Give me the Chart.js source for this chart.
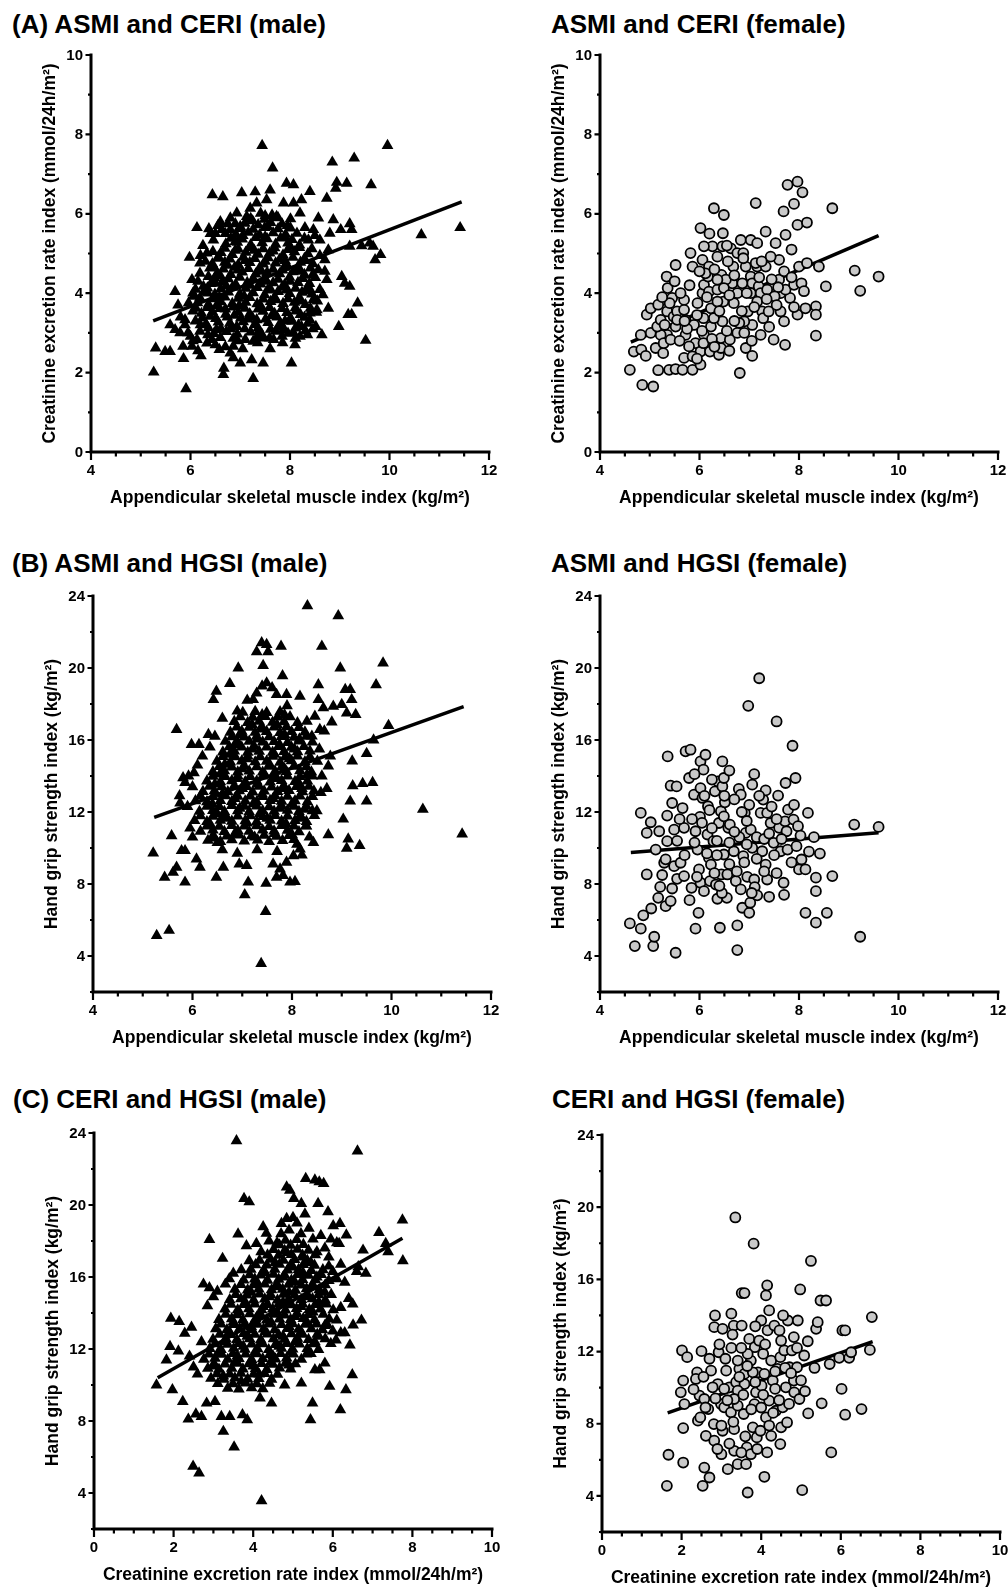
<!DOCTYPE html>
<html>
<head>
<meta charset="utf-8">
<script src="https://cdn.jsdelivr.net/npm/chart.js@4.4.1/dist/chart.umd.min.js"></script>
<style>
  html, body { margin: 0; padding: 0; background: #fff; }
  #page { position: relative; width: 1008px; height: 1592px; overflow: hidden; font-family: 'Liberation Sans', Arial, sans-serif; }
  .title { position: absolute; font-weight: bold; font-size: 26px; line-height: 26px; white-space: nowrap; color: #000; }
  canvas { position: absolute; }
</style>
</head>
<body>
<div id="page">
  <div class="title" style="left:12px;top:11px">(A) ASMI and CERI (male)</div>
  <div class="title" style="left:551px;top:11px">ASMI and CERI (female)</div>
  <div class="title" style="left:12px;top:550px">(B) ASMI and HGSI (male)</div>
  <div class="title" style="left:551px;top:550px">ASMI and HGSI (female)</div>
  <div class="title" style="left:13px;top:1086px">(C) CERI and HGSI (male)</div>
  <div class="title" style="left:552px;top:1086px">CERI and HGSI (female)</div>
</div>
<script>
// axis ranges and titles
const asmiRange = [4, 12];
const ceriRange = [0, 10];
const hgsiRange = [2, 24];
const asmiLabel = 'Appendicular skeletal muscle index (kg/m²)';
const ceriLabel = 'Creatinine excretion rate index (mmol/24h/m²)';
const hgsiLabel = 'Hand grip strength index (kg/m²)';

// regression lines (start, end)
const fitAsmiCeriMale = [[5.25, 3.3], [11.45, 6.3]];
const fitAsmiCeriFemale = [[4.62, 2.77], [9.6, 5.45]];
const fitAsmiHgsiMale = [[5.23, 11.7], [11.45, 17.85]];
const fitAsmiHgsiFemale = [[4.62, 9.75], [9.6, 10.85]];
const fitCeriHgsiMale = [[1.6, 10.4], [7.75, 18.15]];
const fitCeriHgsiFemale = [[1.65, 8.6], [6.8, 12.55]];

// (A) male: ASMI vs CERI
const asmiCeriMale = [
  [7.44,7.72],[9.96,7.72],[7.65,7.15],[9.29,7.40],[8.85,7.30],[8.94,6.79],[9.14,6.77],[9.63,6.73],[8.92,6.64],[11.42,5.65],
  [10.64,5.47],[9.52,2.81],[5.91,1.59],[5.26,2.01],[5.30,2.62],[5.49,2.53],[5.59,2.53],[5.86,2.35],[7.26,1.85],[6.66,1.95],
  [6.67,2.11],[7.46,2.24],[8.03,2.24],[7.23,2.32],[7.00,2.24],[6.86,2.37],[6.21,2.42],[6.44,6.48],[6.65,6.43],[7.03,6.53],
  [6.13,5.65],[6.37,5.62],[5.98,4.90],[5.69,4.04],[9.82,4.97],[9.71,4.84],[8.98,3.16],[9.36,3.75],[9.17,3.46],[9.24,3.46],
  [9.44,5.19],[9.67,5.18],[9.60,5.26],[9.20,5.75],[9.24,5.60],[9.20,5.18],[8.40,6.56],[8.23,6.35],[7.93,6.77],[8.07,6.73],
  [7.60,6.60],[8.74,6.39],[8.57,5.89],[9.02,5.60],[9.04,4.42],[9.10,4.25],[9.20,4.17],[8.66,3.96],[8.77,3.62],[8.64,2.95],
  [8.52,3.16],
  [5.59,3.20],[5.69,3.08],[5.79,3.00],[5.89,3.20],[5.85,2.66],[6.03,2.66],[6.13,2.83],[6.19,3.04],[6.00,2.91],[5.89,3.33],
  [5.96,3.75],[6.06,3.92],[6.03,4.34],[6.19,4.50],[6.26,4.17],[6.36,4.42],[6.46,4.67],[6.56,4.92],[6.43,2.83],[6.33,2.74],
  [6.58,2.58],[6.80,2.49],[6.86,2.66],[7.10,2.83],[7.26,2.79],[7.46,2.87],[7.67,2.83],[7.87,3.08],[8.07,3.00],[8.20,2.91],
  [8.23,3.16],[8.40,3.33],[8.54,3.58],[8.47,3.83],[8.60,4.09],[8.74,4.34],[8.57,4.59],[8.70,4.84],[8.77,5.09],[8.60,5.34],
  [8.80,5.51],[8.87,5.85],[8.47,5.60],[8.37,5.34],[8.20,6.02],[8.07,6.27],[7.87,6.27],[7.73,5.93],[7.53,6.35],[7.33,6.27],
  [7.20,6.14],[7.13,5.93],[6.93,6.02],[6.80,5.89],[6.63,5.60],[6.80,5.60],[7.00,5.68],[6.46,5.34],[6.33,5.01],[6.19,4.76],
  [6.47,2.98],[6.72,3.03],[6.94,2.97],[7.21,3.02],[7.44,2.95],[7.71,3.04],[7.96,2.99],[8.31,3.05],
  [6.31,3.22],[6.56,3.27],[6.79,3.24],[7.06,3.28],[7.29,3.21],[7.56,3.26],[7.81,3.23],[8.04,3.29],[8.36,3.24],
  [6.22,3.49],[6.44,3.53],[6.71,3.47],[6.96,3.52],[7.19,3.48],[7.46,3.54],[7.69,3.49],[7.94,3.51],[8.21,3.46],[8.53,3.52],
  [6.14,3.76],[6.36,3.72],[6.61,3.78],[6.84,3.74],[7.11,3.77],[7.34,3.73],[7.61,3.79],[7.86,3.74],[8.09,3.77],[8.31,3.71],
  [6.26,4.02],[6.49,3.97],[6.76,4.03],[6.99,3.98],[7.26,4.01],[7.49,3.96],[7.76,4.04],[7.99,3.99],[8.24,4.02],[8.44,3.98],
  [6.41,4.24],[6.64,4.28],[6.91,4.22],[7.14,4.27],[7.41,4.23],[7.66,4.26],[7.89,4.21],[8.16,4.27],[8.39,4.24],
  [6.54,4.51],[6.81,4.47],[7.04,4.53],[7.31,4.48],[7.54,4.52],[7.79,4.49],[8.06,4.54],[8.29,4.47],
  [6.44,4.74],[6.69,4.78],[6.96,4.72],[7.19,4.77],[7.46,4.73],[7.71,4.76],[7.94,4.71],[8.21,4.78],[8.46,4.74],
  [6.61,5.02],[6.84,4.97],[7.11,5.03],[7.36,4.98],[7.59,5.01],[7.86,4.96],[8.09,5.04],[8.36,4.99],
  [6.71,5.24],[6.94,5.28],[7.21,5.22],[7.44,5.27],[7.71,5.23],[7.96,5.26],[8.19,5.21],
  [6.91,5.49],[7.16,5.53],[7.39,5.47],[7.66,5.52],[7.91,5.48],[8.14,5.51],
  [7.09,5.76],[7.36,5.72],[7.61,5.78],[7.84,5.74],[7.41,6.01],[7.64,5.97],
  [6.05,3.55],[6.10,4.10],[5.80,3.40],[5.75,3.70],[6.50,5.50],[6.60,5.80],[6.90,5.30],[7.30,6.55],[7.50,5.95],[8.30,5.65],
  [8.50,5.45],[8.60,4.95],[8.70,4.55],[8.40,4.10],[8.55,3.80],[8.35,2.95],[6.20,3.20],[6.35,2.95],[7.05,2.60],[7.60,2.60],
  [8.10,2.70],[6.95,2.80],[7.35,2.75],[7.85,2.75],
  [6.60,2.88],[6.86,2.86],[7.34,2.90],[7.59,2.87],[7.84,2.91],[8.11,2.86],
  [6.36,3.13],[6.61,3.11],[6.84,3.14],[7.09,3.10],[7.36,3.12],[7.61,3.09],[7.86,3.14],[8.11,3.12],[8.46,3.10],
  [6.24,3.38],[6.51,3.36],[6.74,3.40],[7.01,3.37],[7.24,3.39],[7.51,3.35],[7.74,3.40],[8.01,3.37],[8.29,3.39],
  [6.11,3.62],[6.34,3.64],[6.59,3.61],[6.86,3.65],[7.09,3.62],[7.36,3.60],[7.59,3.64],[7.84,3.61],[8.11,3.63],[8.41,3.62],
  [6.19,3.88],[6.46,3.86],[6.69,3.90],[6.96,3.87],[7.19,3.89],[7.46,3.85],[7.69,3.90],[7.96,3.86],[8.19,3.89],[8.49,3.87],
  [6.34,4.13],[6.61,4.11],[6.84,4.15],[7.11,4.12],[7.34,4.14],[7.61,4.10],[7.84,4.15],[8.11,4.12],[8.34,4.13],
  [6.49,4.38],[6.76,4.36],[6.99,4.40],[7.26,4.37],[7.49,4.39],[7.76,4.35],[7.99,4.40],[8.26,4.37],[8.51,4.39],
  [6.39,4.63],[6.66,4.61],[6.89,4.65],[7.16,4.62],[7.39,4.64],[7.66,4.60],[7.89,4.65],[8.16,4.62],[8.41,4.63],
  [6.56,4.88],[6.79,4.86],[7.06,4.90],[7.29,4.87],[7.56,4.89],[7.79,4.85],[8.06,4.90],[8.29,4.87],
  [6.69,5.13],[6.96,5.11],[7.19,5.15],[7.46,5.12],[7.69,5.14],[7.96,5.10],[8.19,5.15],[8.44,5.12],
  [6.81,5.38],[7.04,5.36],[7.31,5.40],[7.54,5.37],[7.81,5.39],[8.04,5.35],[8.29,5.38],
  [7.01,5.63],[7.26,5.61],[7.49,5.65],[7.76,5.62],[8.01,5.64],
  [7.21,5.88],[7.49,5.86],[7.76,5.90],[8.01,5.87],
  [6.52,3.08],[6.93,3.16],[7.38,3.05],[7.77,3.17],[8.17,3.20],[6.40,3.42],[6.88,3.44],[7.33,3.33],[7.63,3.43],[8.12,3.55],
  [6.52,3.68],[6.98,3.69],[7.42,3.66],[7.72,3.83],[8.20,3.80],[6.58,3.90],[7.08,3.92],[7.55,4.08],[7.93,4.08],[8.32,4.05],
  [6.72,4.18],[7.20,4.20],[7.52,4.30],[8.00,4.30],[6.60,4.44],[6.95,4.58],[7.40,4.55],[7.85,4.58],[8.22,4.55],[6.75,4.70],
  [7.10,4.82],[7.50,4.80],[7.90,4.82],[8.30,4.82],[6.90,5.08],[7.28,5.08],[7.66,5.06],[8.00,5.18],[7.05,5.45],[7.50,5.42],
  [7.90,5.40],[7.25,5.82],[7.55,5.68],[7.95,5.70],[6.80,3.10],[7.15,3.35],[7.90,3.30],[6.70,3.60],[8.40,3.50],[6.35,4.00],
  [6.50,4.25],[8.45,4.45],
  [6.25,5.20],[6.40,5.50],[6.55,5.70],[6.20,4.95],[6.30,4.80],[6.45,5.05],[6.70,5.50],[6.75,5.75],[6.90,5.75],[6.15,4.30],
  [6.05,4.00],[6.10,3.30],[5.95,3.00],[6.05,2.80],[6.15,2.55],[6.50,2.70],[6.70,2.65]
];

// (A) female: ASMI vs CERI
const asmiCeriFemale = [
  [4.60,2.07],[4.85,1.69],[5.07,1.65],[5.17,2.06],[4.82,2.95],[4.68,2.53],[4.83,2.58],[4.92,2.42],[4.94,3.46],[5.02,3.62],
  [5.02,3.00],[5.12,2.62],[5.17,3.71],[5.27,2.49],[5.35,2.95],[5.39,2.07],[5.52,2.09],[5.34,4.42],[5.36,4.13],[5.52,4.71],
  [5.35,3.54],[5.48,3.41],[5.45,3.88],[5.55,3.54],[5.52,3.16],[5.66,2.07],[5.86,2.07],[6.02,2.20],[5.82,5.01],[5.86,4.67],
  [6.02,5.64],[6.06,4.84],[5.69,3.83],[5.72,3.33],[5.69,2.37],[5.72,2.95],[5.89,3.20],[5.92,2.74],[6.02,2.53],[5.96,3.75],
  [6.06,4.00],[6.09,4.21],[6.26,5.18],[6.29,6.14],[6.49,5.97],[6.47,5.51],[6.19,4.67],[6.17,4.42],[6.19,4.04],[6.23,3.62],
  [6.23,3.16],[6.21,2.53],[6.39,2.45],[6.43,2.62],[6.36,4.92],[6.46,5.18],[6.36,4.09],[6.44,4.46],[6.48,3.79],[6.46,3.29],
  [6.43,2.87],[6.61,2.83],[6.63,5.13],[6.68,4.67],[6.66,4.25],[6.69,3.75],[6.76,5.01],[6.83,5.34],[6.88,5.01],[6.93,4.67],
  [6.81,1.99],[6.93,2.62],[7.06,2.42],[7.03,5.34],[7.13,6.27],[7.03,4.42],[7.06,4.25],[7.03,4.00],[6.97,3.54],[7.06,3.20],
  [6.90,3.29],[6.80,3.25],[7.16,4.67],[7.19,4.17],[7.23,4.00],[7.26,3.54],[7.23,2.95],[7.28,3.37],[7.33,5.55],[7.33,4.67],
  [7.36,4.09],[7.53,5.26],[7.49,2.83],[7.72,2.70],[7.60,4.84],[7.60,4.34],[7.63,4.00],[7.63,3.54],[7.70,3.29],[7.73,5.47],
  [7.69,6.06],[7.77,6.73],[7.97,6.81],[8.07,6.54],[7.90,6.25],[7.97,5.72],[8.16,5.78],[7.82,3.88],[7.73,4.09],[7.90,4.21],
  [7.97,3.46],[8.00,4.67],[8.05,4.25],[8.13,3.62],[8.16,4.76],[8.40,4.67],[8.34,3.67],[8.34,3.46],[8.34,2.93],[8.54,4.17],
  [8.67,6.14],[9.12,4.57],[9.23,4.06],[9.60,4.42],[7.58,4.15],[7.51,3.92],[7.16,5.26],[7.13,4.76],[6.88,4.88],[6.57,4.80],
  [6.53,4.34],[6.36,4.34],[6.09,5.18],[6.12,4.50],[6.08,3.37],[6.09,2.95],[6.08,2.74],[6.29,3.37],[6.36,3.79],[6.49,4.13],
  [6.76,3.00],[6.76,4.00],[6.86,4.25],[7.16,3.79],[7.39,3.54],[7.43,4.92],[5.22,2.95],[5.15,3.16],[5.22,3.33],[5.28,2.74],
  [5.42,2.83],[5.62,4.00],[5.55,3.33],[5.79,2.66],[5.86,2.41],[5.69,3.58],
  [5.30,3.20],[5.40,3.75],[5.60,2.80],[5.75,3.10],[5.80,4.20],[5.95,3.45],[6.05,3.05],[6.15,3.90],[6.25,2.85],[6.30,4.60],
  [6.40,3.55],[6.55,3.05],[6.60,3.95],[6.70,4.45],[6.85,3.55],[6.95,4.00],[7.10,3.65],[7.20,4.40],[7.35,3.85],[7.45,4.35],
  [7.55,3.70],[7.70,4.55],[7.85,4.40],[7.90,3.65],[5.50,4.30],[5.25,3.90],[6.00,4.55],[6.55,5.20],[6.70,3.30],[7.05,2.80],
  [6.30,2.65],[5.95,2.35],[6.60,2.55],[7.40,3.15],[7.85,5.10],[8.10,4.05],[7.25,4.80],[6.20,5.50],[5.70,3.30],[6.90,3.00]
];

// (B) male: ASMI vs HGSI
const asmiHgsiMale = [
  [8.31,23.45],[8.93,22.90],[7.39,21.40],[7.49,21.30],[7.29,20.90],[7.52,20.90],[7.78,21.20],[8.60,21.20],[7.42,20.14],[6.92,20.00],
  [8.97,20.00],[9.83,20.27],[7.81,19.57],[9.69,19.07],[8.53,19.07],[7.49,19.17],[6.75,19.13],[6.48,18.70],[6.42,18.24],[5.68,16.58],
  [5.98,15.75],[6.13,15.75],[6.32,16.30],[9.94,16.80],[9.64,16.00],[9.50,15.25],[9.21,14.83],[9.42,13.58],[9.62,13.63],[9.22,13.45],
  [9.50,12.60],[9.17,12.60],[9.03,11.60],[9.13,10.50],[9.10,9.98],[9.36,10.13],[10.63,12.15],[11.42,10.77],[8.73,10.73],[8.28,11.23],
  [5.21,9.72],[5.44,8.37],[5.61,8.65],[5.68,8.93],[5.85,8.10],[5.28,5.14],[5.53,5.42],[7.38,3.58],[7.47,6.47],[7.05,7.40],
  [7.12,8.10],[7.48,8.04],[8.06,8.13],[7.96,8.10],[6.48,8.37],[6.62,8.93],[6.94,9.11],[7.09,9.02],[5.58,10.68],[5.85,9.85],
  [5.78,9.85],[6.08,9.39],[6.15,8.93],[5.81,13.90],[5.85,13.63],[6.03,14.18],[5.74,12.90],[8.73,14.55],[8.77,15.10],[8.58,13.08],
  [8.50,12.06],[8.43,10.30],[8.16,9.94],[8.03,9.57],[7.89,9.20],[7.76,8.83],[7.62,9.11],[7.82,8.47],[7.69,8.37],[8.53,18.24],
  [9.07,18.80],[9.17,18.80],[9.20,18.24],[9.28,17.41],[9.10,17.50],[8.83,17.87],[9.00,17.97],[8.63,17.78],[8.16,18.43],[7.89,18.52],
  [7.69,18.52],[7.29,18.60],[7.22,18.24],[8.46,17.32],[8.30,17.04],[8.56,16.58],[8.40,16.21],
  [6.31,10.42],[6.56,10.36],[6.79,10.45],[7.04,10.38],[7.31,10.44],[7.54,10.35],[7.81,10.41],[8.04,10.47],
  [6.16,10.93],[6.41,10.99],[6.64,10.91],[6.91,10.97],[7.14,10.92],[7.41,11.00],[7.64,10.94],[7.91,10.98],[8.14,10.90],
  [6.04,11.52],[6.29,11.46],[6.56,11.53],[6.79,11.48],[7.06,11.51],[7.29,11.45],[7.56,11.54],[7.79,11.49],[8.06,11.52],[8.29,11.47],
  [6.14,12.03],[6.41,12.08],[6.64,12.02],[6.91,12.07],[7.14,12.01],[7.41,12.06],[7.64,12.04],[7.91,12.09],[8.14,12.02],[8.41,12.06],
  [6.06,12.62],[6.29,12.57],[6.56,12.63],[6.79,12.58],[7.06,12.61],[7.29,12.56],[7.56,12.64],[7.79,12.59],[8.06,12.62],[8.31,12.57],
  [6.21,13.13],[6.44,13.18],[6.71,13.12],[6.94,13.17],[7.21,13.11],[7.44,13.16],[7.71,13.14],[7.94,13.19],[8.21,13.12],[8.44,13.16],
  [6.29,13.72],[6.56,13.67],[6.79,13.73],[7.06,13.68],[7.29,13.71],[7.56,13.66],[7.79,13.74],[8.06,13.69],[8.31,13.72],
  [6.41,14.23],[6.64,14.28],[6.91,14.22],[7.14,14.27],[7.41,14.21],[7.66,14.26],[7.89,14.24],[8.16,14.29],[8.39,14.22],
  [6.49,14.82],[6.76,14.77],[6.99,14.83],[7.26,14.78],[7.49,14.81],[7.76,14.76],[7.99,14.84],[8.26,14.79],[8.51,14.82],
  [6.61,15.33],[6.84,15.38],[7.11,15.32],[7.34,15.37],[7.61,15.31],[7.84,15.36],[8.11,15.34],[8.36,15.39],
  [6.66,15.92],[6.91,15.87],[7.14,15.93],[7.41,15.88],[7.64,15.91],[7.91,15.86],[8.14,15.94],[8.41,15.89],
  [6.76,16.43],[6.99,16.48],[7.26,16.42],[7.49,16.47],[7.76,16.41],[7.99,16.46],[8.26,16.44],
  [6.84,17.02],[7.11,16.97],[7.34,17.03],[7.61,16.98],[7.84,17.01],[8.11,16.96],
  [7.01,17.53],[7.26,17.58],[7.49,17.52],[7.76,17.57],
  [5.90,12.30],[5.95,11.10],[6.00,13.40],[5.92,14.00],[6.10,14.60],[6.20,15.10],[6.35,15.60],[6.45,16.20],[6.00,10.60],[5.75,12.50],
  [8.60,14.00],[8.70,13.30],[8.55,15.50],[8.65,16.50],[8.80,17.00],[8.45,11.80],[8.35,10.60],[8.20,9.60],[8.10,10.20],[7.70,9.80],
  [7.30,9.90],[6.90,9.70],[6.60,9.90],[6.50,10.30],[7.10,18.20],[7.40,19.00],[7.60,18.90],[7.90,17.90],[6.90,17.60],[6.60,17.20],
  [6.41,10.68],[6.69,10.66],[6.94,10.71],[7.19,10.67],[7.44,10.70],[7.69,10.65],[7.94,10.69],
  [6.29,11.22],[6.54,11.20],[6.79,11.25],[7.04,11.21],[7.29,11.23],[7.54,11.19],[7.79,11.24],[8.04,11.21],[8.29,11.22],
  [6.16,11.78],[6.41,11.76],[6.66,11.80],[6.91,11.77],[7.16,11.79],[7.41,11.75],[7.66,11.80],[7.91,11.77],[8.16,11.79],
  [6.29,12.32],[6.54,12.30],[6.79,12.35],[7.04,12.31],[7.29,12.33],[7.54,12.29],[7.79,12.34],[8.04,12.31],[8.29,12.32],
  [6.16,12.88],[6.41,12.86],[6.66,12.90],[6.91,12.87],[7.16,12.89],[7.41,12.85],[7.66,12.90],[7.91,12.87],[8.16,12.89],[8.41,12.86],
  [6.34,13.42],[6.59,13.40],[6.84,13.45],[7.09,13.41],[7.34,13.43],[7.59,13.39],[7.84,13.44],[8.09,13.41],[8.34,13.42],
  [6.41,13.98],[6.66,13.96],[6.91,14.00],[7.16,13.97],[7.41,13.99],[7.66,13.95],[7.91,14.00],[8.16,13.97],[8.41,13.99],
  [6.54,14.52],[6.79,14.50],[7.04,14.55],[7.29,14.51],[7.54,14.53],[7.79,14.49],[8.04,14.54],[8.29,14.51],
  [6.61,15.08],[6.86,15.06],[7.11,15.10],[7.36,15.07],[7.61,15.09],[7.86,15.05],[8.11,15.10],[8.36,15.07],
  [6.74,15.62],[6.99,15.60],[7.24,15.65],[7.49,15.61],[7.74,15.63],[7.99,15.59],[8.24,15.64],
  [6.79,16.18],[7.04,16.16],[7.29,16.20],[7.54,16.17],[7.79,16.19],[8.04,16.15],[8.29,16.20],
  [6.89,16.72],[7.14,16.70],[7.39,16.75],[7.64,16.71],[7.89,16.73],[8.14,16.69],
  [6.96,17.28],[7.21,17.26],[7.46,17.30],[7.71,17.27],[7.96,17.29],
  [6.45,10.55],[6.85,10.80],[7.25,10.60],[7.65,10.80],[8.00,10.75],[6.35,11.35],[6.70,11.65],[7.10,11.38],[7.50,11.65],[7.88,11.35],
  [8.20,11.65],[6.50,11.90],[6.95,12.20],[7.35,11.90],[7.75,12.20],[8.25,12.15],[6.40,12.45],[6.85,12.75],[7.22,12.45],[7.62,12.75],
  [8.00,12.45],[6.60,13.00],[7.00,13.30],[7.40,13.00],[7.80,13.30],[8.20,13.30],[6.45,13.55],[6.90,13.85],[7.30,13.55],[7.70,13.85],
  [8.15,13.55],[6.55,14.10],[7.00,14.40],[7.45,14.10],[7.85,14.40],[8.30,14.05],[6.65,14.65],[7.10,14.95],[7.55,14.65],[7.95,14.95],
  [6.75,15.20],[7.20,15.50],[7.65,15.20],[8.05,15.50],[6.85,15.75],[7.30,16.05],[7.75,15.75],[8.15,16.05],[6.95,16.30],[7.40,16.60],
  [7.85,16.30],[7.20,16.85],[7.70,16.85],[7.40,17.40],[7.85,17.40]
];

// (B) female: ASMI vs HGSI
const asmiHgsiFemale = [
  [4.60,5.81],[4.70,4.55],[4.82,5.52],[4.87,6.26],[4.82,11.95],[4.94,10.84],[4.94,8.53],[5.02,11.43],[5.07,4.55],[5.09,5.07],
  [5.03,6.64],[5.12,9.91],[5.17,7.23],[5.21,7.84],[5.19,10.93],[5.29,9.18],[5.32,6.77],[5.35,10.38],[5.36,15.09],[5.42,7.05],
  [5.42,13.46],[5.45,7.75],[5.45,12.50],[5.49,11.02],[5.52,4.18],[5.54,13.42],[5.32,9.37],[5.49,8.99],[5.55,8.29],[5.62,9.18],
  [5.66,12.22],[5.69,8.44],[5.69,11.12],[5.72,15.37],[5.82,15.46],[5.79,13.89],[5.84,7.79],[5.89,12.96],[5.92,5.52],[5.98,6.40],
  [5.92,10.93],[5.96,9.91],[5.99,8.81],[6.01,11.73],[6.02,8.07],[6.02,13.33],[6.06,12.78],[6.02,14.81],[6.08,14.35],[6.12,15.18],
  [6.09,7.60],[6.16,10.75],[6.17,12.32],[6.19,9.45],[6.21,8.16],[6.23,9.08],[6.28,10.38],[6.31,13.15],[6.33,7.97],[6.36,7.18],
  [6.37,13.70],[6.39,11.39],[6.41,5.57],[6.43,12.04],[6.44,8.53],[6.46,13.42],[6.46,14.81],[6.49,9.64],[6.49,11.76],[6.49,13.89],
  [6.51,12.54],[6.55,7.23],[6.56,8.53],[6.58,11.12],[6.61,11.30],[6.69,9.82],[6.73,8.16],[6.76,5.70],[6.76,4.33],[6.79,13.28],
  [6.83,12.96],[6.83,7.70],[6.86,6.68],[6.88,9.55],[6.91,11.95],[6.93,10.84],[6.96,8.40],[6.98,17.90],[7.00,6.40],[7.02,6.96],
  [7.03,11.02],[7.06,13.52],[7.06,10.01],[7.10,8.25],[7.11,7.83],[7.16,7.37],[7.20,19.43],[7.23,11.95],[7.26,9.82],[7.28,12.69],
  [7.33,13.20],[7.33,9.08],[7.36,11.95],[7.36,8.25],[7.40,7.29],[7.43,11.39],[7.49,10.29],[7.55,17.03],[7.58,12.91],[7.60,11.12],
  [7.63,9.82],[7.69,8.07],[7.72,11.48],[7.73,13.61],[7.75,10.93],[7.77,9.91],[7.78,12.13],[7.87,15.68],[7.89,11.58],[7.93,13.89],
  [7.95,10.10],[7.98,11.21],[8.00,8.81],[8.03,10.69],[8.05,9.36],[8.13,8.81],[8.18,11.95],[8.13,6.40],[8.34,8.35],[8.34,7.60],
  [8.34,5.85],[8.42,9.69],[8.56,6.40],[8.67,8.44],[9.11,11.30],[9.23,5.07],[9.60,11.17],
  [5.90,10.30],[6.25,11.10],[6.60,10.30],[6.90,9.20],[7.15,10.60],[7.50,9.60],[6.35,9.60],[5.85,11.60],[6.70,12.70],[7.00,12.40],
  [7.55,11.60],[6.10,12.90],[6.80,10.60],[7.30,10.50],
  [5.55,10.40],[5.70,9.60],[5.80,7.10],[5.95,8.40],[6.05,11.40],[6.15,9.70],[6.20,12.10],[6.30,8.60],[6.35,10.40],[6.45,7.50],
  [6.50,12.90],[6.60,9.10],[6.70,10.90],[6.75,8.70],[6.85,12.00],[6.95,10.20],[7.05,7.50],[7.15,9.40],[7.20,12.90],[7.30,8.70],
  [7.40,10.80],[7.45,12.30],[7.55,8.60],[7.65,10.50],[7.85,9.20],[7.90,12.40],[6.25,13.80],[5.90,14.10],[6.60,14.30],[7.10,14.10],
  [5.60,11.60],[5.35,11.80],[5.25,8.50],[6.95,11.50],[6.40,7.90],[7.70,7.40],[8.20,9.80],[8.30,10.60]
];

// (C) male: CERI vs HGSI
const ceriHgsiMale = [
  [3.58,23.56],[6.62,23.00],[7.75,19.16],[7.76,16.90],[7.16,18.47],[7.39,17.40],[7.33,17.86],[6.76,17.49],[6.83,16.20],[6.64,16.57],
  [6.72,13.60],[6.51,13.33],[6.49,10.56],[6.33,9.73],[6.19,8.62],[5.44,8.07],[5.49,9.00],[1.57,10.00],[1.82,11.39],[1.97,9.73],
  [1.91,12.13],[2.12,11.89],[1.93,13.70],[2.14,13.52],[2.28,12.87],[2.23,9.08],[2.37,8.10],[2.56,8.38],[2.49,5.48],[2.64,5.11],
  [4.21,3.57],[3.52,6.55],[3.25,7.42],[2.90,18.08],[3.23,17.03],[3.62,18.38],[3.77,20.36],[3.90,20.17],[3.83,17.73],[4.08,17.86],
  [4.84,21.00],[4.92,20.82],[5.02,20.36],[5.21,20.08],[5.32,21.47],[5.55,21.38],[5.66,21.28],[5.77,21.19],[5.63,20.08],[5.88,19.62],
  [6.01,18.84],[6.18,18.97],[6.34,18.33],[6.16,17.86],[4.25,18.79],[4.33,18.42],[4.71,18.97],[4.84,19.25],[5.92,9.92],[5.80,11.21],
  [5.67,10.84],[5.55,10.84],[6.08,12.50],[6.43,12.22],[5.21,10.10],[4.79,10.00],[4.46,8.99],[4.17,9.27],[3.85,8.07],[3.73,8.34],
  [3.41,8.25],[3.20,8.25],[2.70,8.25],[2.83,8.99],[3.04,9.08],
  [3.36,9.82],[3.64,9.77],[3.96,9.84],[4.24,9.79],
  [2.94,10.37],[3.26,10.32],[3.54,10.38],[3.86,10.33],[4.14,10.36],[4.46,10.31],
  [2.86,10.92],[3.14,10.87],[3.46,10.93],[3.74,10.88],[4.06,10.91],[4.34,10.86],[4.66,10.94],[4.94,10.89],
  [2.76,11.43],[3.04,11.48],[3.36,11.42],[3.64,11.47],[3.96,11.41],[4.24,11.46],[4.56,11.44],[4.84,11.49],[5.21,11.42],
  [2.91,12.02],[3.19,11.97],[3.51,12.03],[3.79,11.98],[4.11,12.01],[4.39,11.96],[4.71,12.04],[4.99,11.99],[5.36,12.02],[5.64,11.97],
  [2.99,12.53],[3.31,12.58],[3.59,12.52],[3.91,12.57],[4.19,12.51],[4.51,12.56],[4.79,12.54],[5.11,12.59],[5.39,12.52],[5.81,12.56],
  [3.06,13.12],[3.34,13.07],[3.66,13.13],[3.94,13.08],[4.26,13.11],[4.54,13.06],[4.86,13.14],[5.14,13.09],[5.46,13.12],[5.74,13.07],
  [3.14,13.63],[3.46,13.68],[3.74,13.62],[4.06,13.67],[4.34,13.61],[4.66,13.66],[4.94,13.64],[5.26,13.69],[5.54,13.62],[5.91,13.66],
  [3.29,14.22],[3.61,14.17],[3.89,14.23],[4.21,14.18],[4.49,14.21],[4.81,14.16],[5.09,14.24],[5.41,14.19],[5.69,14.22],[6.01,14.17],
  [3.41,14.73],[3.69,14.78],[4.01,14.72],[4.29,14.77],[4.61,14.71],[4.89,14.76],[5.21,14.74],[5.49,14.79],[5.81,14.72],
  [3.54,15.32],[3.86,15.27],[4.14,15.33],[4.46,15.28],[4.74,15.31],[5.06,15.26],[5.34,15.34],[5.66,15.29],
  [3.76,15.83],[4.04,15.88],[4.36,15.82],[4.64,15.87],[4.96,15.81],[5.24,15.86],[5.56,15.84],
  [3.94,16.42],[4.26,16.37],[4.54,16.43],[4.86,16.38],[5.14,16.41],[5.46,16.36],
  [4.16,16.93],[4.44,16.98],[4.76,16.92],[5.04,16.97],[5.36,16.91],
  [4.51,17.52],[4.79,17.47],[5.11,17.53],[5.39,17.48],[4.81,18.03],[5.09,18.08],
  [2.40,11.60],[2.60,10.60],[2.70,12.40],[2.85,14.40],[2.90,15.40],[2.75,15.60],[3.00,14.90],[3.10,15.20],[2.50,11.00],[2.45,13.20],
  [6.20,14.30],[6.40,14.80],[6.50,14.50],[6.10,15.90],[6.30,15.70],[5.90,16.60],[6.10,17.90],[5.90,17.10],[6.60,16.30],[6.30,12.90],
  [3.11,10.08],[3.49,10.06],[3.81,10.11],[4.09,10.07],[4.41,10.09],
  [3.09,10.62],[3.41,10.60],[3.69,10.65],[4.01,10.61],[4.29,10.63],[4.61,10.59],
  [3.01,11.18],[3.29,11.16],[3.61,11.20],[3.89,11.17],[4.21,11.19],[4.49,11.15],[4.81,11.20],[5.06,11.17],
  [2.89,11.72],[3.21,11.70],[3.49,11.75],[3.81,11.71],[4.09,11.73],[4.41,11.69],[4.69,11.74],[5.01,11.71],[5.34,11.72],
  [3.04,12.28],[3.36,12.26],[3.64,12.30],[3.96,12.27],[4.24,12.29],[4.56,12.25],[4.84,12.30],[5.16,12.27],[5.51,12.29],
  [3.16,12.82],[3.44,12.80],[3.76,12.85],[4.04,12.81],[4.36,12.83],[4.64,12.79],[4.96,12.84],[5.24,12.81],[5.61,12.82],
  [3.19,13.38],[3.51,13.36],[3.79,13.40],[4.11,13.37],[4.39,13.39],[4.71,13.35],[4.99,13.40],[5.31,13.37],[5.59,13.39],[5.86,13.36],
  [3.31,13.92],[3.59,13.90],[3.91,13.95],[4.19,13.91],[4.51,13.93],[4.79,13.89],[5.11,13.94],[5.39,13.91],[5.76,13.92],
  [3.44,14.48],[3.76,14.46],[4.04,14.50],[4.36,14.47],[4.64,14.49],[4.96,14.45],[5.24,14.50],[5.56,14.47],[5.84,14.49],
  [3.56,15.02],[3.84,15.00],[4.16,15.05],[4.44,15.01],[4.76,15.03],[5.04,14.99],[5.36,15.04],[5.64,15.01],[5.96,15.02],
  [3.69,15.58],[4.01,15.56],[4.29,15.60],[4.61,15.57],[4.89,15.59],[5.21,15.55],[5.49,15.60],[5.81,15.57],
  [3.91,16.12],[4.19,16.10],[4.51,16.15],[4.79,16.11],[5.11,16.13],[5.39,16.09],[5.71,16.14],
  [4.06,16.68],[4.34,16.66],[4.66,16.70],[4.94,16.67],[5.26,16.69],[5.54,16.65],
  [4.36,17.22],[4.64,17.20],[4.96,17.25],[5.24,17.21],[5.56,17.23],
  [4.66,17.78],[4.94,17.76],[5.26,17.80],
  [3.25,10.50],[3.70,10.20],[4.15,10.60],[3.05,11.05],[3.55,11.30],[4.00,11.05],[4.45,11.30],[4.90,11.10],[3.12,11.80],[3.60,11.60],
  [4.05,11.85],[4.50,11.60],[4.95,11.85],[5.45,11.75],[3.28,12.40],[3.75,12.15],[4.20,12.40],[4.65,12.15],[5.05,12.40],[5.55,12.40],
  [3.40,12.95],[3.85,12.70],[4.30,12.95],[4.75,12.70],[5.20,12.95],[5.65,12.70],[3.50,13.50],[3.95,13.25],[4.45,13.50],[4.90,13.25],
  [5.35,13.50],[5.80,13.30],[3.65,14.05],[4.10,13.80],[4.60,14.05],[5.05,13.80],[5.50,14.05],[3.80,14.60],[4.25,14.35],[4.75,14.60],
  [5.20,14.35],[5.65,14.60],[3.95,15.15],[4.40,14.90],[4.90,15.15],[5.35,14.90],[5.80,15.15],[4.10,15.70],[4.55,15.45],[5.05,15.70],
  [5.50,15.45],[4.30,16.25],[4.75,16.00],[5.25,16.25],[5.60,16.00],[4.55,16.80],[5.00,16.55],[5.45,16.80],[4.85,17.35],[5.25,17.10],
  [4.90,18.60],[5.10,19.00],[5.20,18.40],[5.40,18.70],[5.50,18.10],[5.70,18.30],[5.80,17.60],[5.95,18.10],[5.30,19.50],[5.00,19.30],
  [4.70,18.40],[4.60,17.90],[5.60,17.40],[5.75,16.40],[5.90,15.80],[6.00,16.30],[6.20,16.70],[6.00,13.00],[6.10,13.60],[6.20,12.90],
  [5.95,12.30],[4.40,18.00],[4.20,17.40],[3.90,16.90],[3.70,16.40],[3.50,16.20],[3.30,15.60],[3.40,15.90]
];

// (C) female: CERI vs HGSI
const ceriHgsiFemale = [
  [1.63,4.56],[1.67,6.28],[2.04,5.85],[2.04,7.76],[2.01,12.06],[2.14,11.69],[1.98,9.74],[2.04,10.39],[2.07,9.09],[2.39,10.85],
  [2.36,10.48],[2.50,12.02],[2.45,9.56],[2.41,8.17],[2.47,8.35],[2.57,5.57],[2.53,4.56],[2.70,5.02],[2.61,7.33],[2.67,8.81],
  [2.74,10.94],[2.81,7.98],[2.82,7.06],[2.84,14.00],[2.82,13.35],[2.91,10.20],[2.93,11.96],[2.99,9.09],[3.03,13.26],[3.00,6.31],
  [3.03,7.61],[3.07,8.91],[3.12,10.94],[3.16,5.48],[3.20,10.02],[3.24,8.63],[3.31,13.44],[3.28,12.94],[3.32,7.70],[3.35,19.43],
  [3.32,6.50],[3.37,10.30],[3.41,5.76],[3.41,9.00],[3.45,11.04],[3.51,13.44],[3.51,15.24],[3.58,15.24],[3.56,8.54],[3.58,10.20],
  [3.62,5.76],[3.64,6.69],[3.66,4.19],[3.70,12.70],[3.74,6.31],[3.74,11.50],[3.79,7.80],[3.81,17.98],[3.83,9.09],[3.84,12.24],
  [3.87,9.74],[3.89,7.24],[3.92,10.85],[3.98,7.61],[4.00,13.72],[4.01,10.11],[4.05,11.87],[4.08,10.76],[4.08,5.06],[4.12,8.35],
  [4.12,15.11],[4.15,15.67],[4.15,6.41],[4.16,13.17],[4.20,14.28],[4.20,9.28],[4.25,11.50],[4.25,7.33],[4.29,10.39],[4.33,13.44],
  [4.35,9.93],[4.37,8.72],[4.41,11.04],[4.46,13.17],[4.48,11.69],[4.50,7.80],[4.48,6.87],[4.54,8.91],[4.58,12.06],[4.62,10.02],
  [4.65,8.07],[4.67,13.72],[4.71,11.13],[4.77,12.06],[4.82,12.80],[4.82,10.39],[4.83,9.74],[4.90,11.13],[4.92,13.72],[4.96,9.37],
  [4.98,15.44],[5.03,4.32],[5.08,11.78],[5.17,12.57],[5.18,8.57],[5.25,17.02],[5.34,11.09],[5.38,13.26],[5.42,13.63],[5.49,14.83],
  [5.52,9.13],[5.63,14.83],[5.72,11.31],[5.76,6.41],[5.96,11.65],[6.02,9.93],[6.04,13.17],[6.11,13.17],[6.11,8.50],[6.21,11.65],
  [6.26,11.96],[6.52,8.81],[6.73,12.09],[6.78,13.91],
  [3.41,11.50],[3.66,11.87],[2.57,9.37],[2.78,10.02],[3.07,9.93],[3.41,9.83],[3.58,10.76],[3.79,10.85],[3.32,9.37],
  [2.30,9.90],[2.55,10.60],[2.60,8.90],[2.70,11.60],[2.85,9.40],[2.95,12.40],[3.00,7.90],[3.10,11.60],[3.15,9.30],[3.25,12.20],
  [3.30,8.10],[3.45,10.60],[3.50,12.20],[3.55,9.60],[3.60,7.30],[3.65,11.20],[3.75,8.80],[3.85,10.30],[3.95,12.60],[4.00,8.90],
  [4.05,9.60],[4.10,12.40],[4.20,7.90],[4.30,8.60],[4.35,10.90],[4.45,9.30],[4.50,12.60],[4.60,11.10],[4.70,9.10],[4.75,10.80],
  [4.90,12.20],[5.00,10.40],[5.10,9.80],[3.20,6.90],[3.50,6.40],[3.90,6.60],[2.90,6.60],[3.25,14.10],[3.85,13.40],[4.55,14.00]
];

const FONT = "'Liberation Sans', Arial, Helvetica, sans-serif";
const TICK_FONT = "bold 15px 'Liberation Sans', Arial, sans-serif";

// Prism-style axes drawn from the chart's own scales:
// thick L-shaped frame, long labelled major ticks, short minor ticks
function prismAxes(xEvery, yEvery) {
  const isMajor = (v, every) => Math.abs(v / every - Math.round(v / every)) < 1e-6;
  return {
    id: 'prismAxes',
    afterDatasetsDraw(chart) {
      const {ctx, chartArea: a, scales: {x, y}} = chart;
      ctx.save();
      ctx.strokeStyle = '#000';
      ctx.fillStyle = '#000';
      ctx.lineWidth = 2.2;
      ctx.beginPath();
      x.ticks.forEach(t => {
        const px = x.getPixelForValue(t.value);
        const len = isMajor(t.value, xEvery) ? 8 : 4.5;
        ctx.moveTo(px, a.bottom);
        ctx.lineTo(px, a.bottom + len);
      });
      y.ticks.forEach(t => {
        const py = y.getPixelForValue(t.value);
        const len = isMajor(t.value, yEvery) ? 5.5 : 3;
        ctx.moveTo(a.left, py);
        ctx.lineTo(a.left - len, py);
      });
      ctx.stroke();
      ctx.lineWidth = 3;
      ctx.lineCap = 'square';
      ctx.beginPath();
      ctx.moveTo(a.left, a.top);
      ctx.lineTo(a.left, a.bottom);
      ctx.lineTo(a.right, a.bottom);
      ctx.stroke();

      ctx.font = TICK_FONT;
      ctx.textBaseline = 'middle';
      ctx.textAlign = 'center';
      x.ticks.forEach(t => {
        if (isMajor(t.value, xEvery)) ctx.fillText(String(t.value), x.getPixelForValue(t.value), a.bottom + 19);
      });
      ctx.textAlign = 'right';
      y.ticks.forEach(t => {
        if (isMajor(t.value, yEvery) && t.value !== y.min) ctx.fillText(String(t.value), a.left - 8, y.getPixelForValue(t.value) + 0.5);
      });
      if (isMajor(y.min, yEvery)) ctx.fillText(String(y.min), a.left - 8, a.bottom + 0.5);
      ctx.restore();
    }
  };
}

function xAxis(range, title) {
  return {
    type: 'linear', min: range[0], max: range[1],
    afterFit: s => { s.height = 62; },
    grid: {display: false},
    border: {display: false},
    ticks: {stepSize: 0.5, autoSkip: false, display: false},
    title: {
      display: true, text: title, color: '#000',
      font: {family: FONT, size: 17.5, weight: 'bold', lineHeight: 1.2},
      padding: {top: 0, bottom: 5}
    }
  };
}

function yAxis(range, title, step, width) {
  return {
    type: 'linear', min: range[0], max: range[1],
    afterFit: s => { s.width = width; },
    grid: {display: false},
    border: {display: false},
    ticks: {stepSize: step, autoSkip: false, display: false},
    title: {
      display: true, text: title, color: '#000',
      font: {family: FONT, size: 17.5, weight: 'bold', lineHeight: 1.2},
      padding: {top: width - 41 - 10.5, bottom: 0}
    }
  };
}

function drawPanel(o) {
  const padTop = 15, w = 504;
  const h = padTop + (o.area[3] - o.area[1]) + 62;
  const canvas = document.createElement('canvas');
  canvas.width = w; canvas.height = h;
  canvas.style.left = o.left + 'px';
  canvas.style.top = (o.area[1] - padTop) + 'px';
  canvas.style.width = w + 'px';
  canvas.style.height = h + 'px';
  document.getElementById('page').appendChild(canvas);

  const female = o.female;
  new Chart(canvas, {
    type: 'scatter',
    data: {
      datasets: [
        {
          data: o.points.map(p => ({x: p[0], y: p[1]})),
          order: 1,
          pointStyle: female ? 'circle' : 'triangle',
          pointRadius: female ? 5 : 6.8,
          pointBackgroundColor: female ? '#c9c9c9' : '#000',
          pointBorderColor: '#000',
          pointBorderWidth: female ? 1.8 : 0
        },
        {
          data: o.fit.map(p => ({x: p[0], y: p[1]})),
          order: 2,
          showLine: true,
          pointRadius: 0,
          borderColor: '#000',
          borderWidth: 3.5
        }
      ]
    },
    options: {
      responsive: false,
      animation: false,
      events: [],
      devicePixelRatio: 1,
      layout: {padding: {top: padTop, left: 0, bottom: 0, right: o.left + w - o.area[2]}},
      plugins: {legend: {display: false}, tooltip: {enabled: false}},
      scales: {
        x: xAxis(o.xRange, o.xTitle),
        y: yAxis(o.yRange, o.yTitle, o.yStep, o.area[0] - o.left)
      }
    },
    plugins: [prismAxes(2, o.yEvery)]
  });
}

drawPanel({left: 0, area: [91, 55, 489, 452], points: asmiCeriMale, fit: fitAsmiCeriMale, female: false,
  xRange: asmiRange, yRange: ceriRange, yStep: 1, yEvery: 2, xTitle: asmiLabel, yTitle: ceriLabel});
drawPanel({left: 504, area: [600, 55, 998, 452], points: asmiCeriFemale, fit: fitAsmiCeriFemale, female: true,
  xRange: asmiRange, yRange: ceriRange, yStep: 1, yEvery: 2, xTitle: asmiLabel, yTitle: ceriLabel});
drawPanel({left: 0, area: [93, 596, 491, 992], points: asmiHgsiMale, fit: fitAsmiHgsiMale, female: false,
  xRange: asmiRange, yRange: hgsiRange, yStep: 2, yEvery: 4, xTitle: asmiLabel, yTitle: hgsiLabel});
drawPanel({left: 504, area: [600, 596, 998, 992], points: asmiHgsiFemale, fit: fitAsmiHgsiFemale, female: true,
  xRange: asmiRange, yRange: hgsiRange, yStep: 2, yEvery: 4, xTitle: asmiLabel, yTitle: hgsiLabel});
drawPanel({left: 0, area: [94, 1133, 492, 1529], points: ceriHgsiMale, fit: fitCeriHgsiMale, female: false,
  xRange: ceriRange, yRange: hgsiRange, yStep: 2, yEvery: 4, xTitle: ceriLabel, yTitle: hgsiLabel});
drawPanel({left: 504, area: [602, 1135, 1000, 1532], points: ceriHgsiFemale, fit: fitCeriHgsiFemale, female: true,
  xRange: ceriRange, yRange: hgsiRange, yStep: 2, yEvery: 4, xTitle: ceriLabel, yTitle: hgsiLabel});
</script>
</body>
</html>
